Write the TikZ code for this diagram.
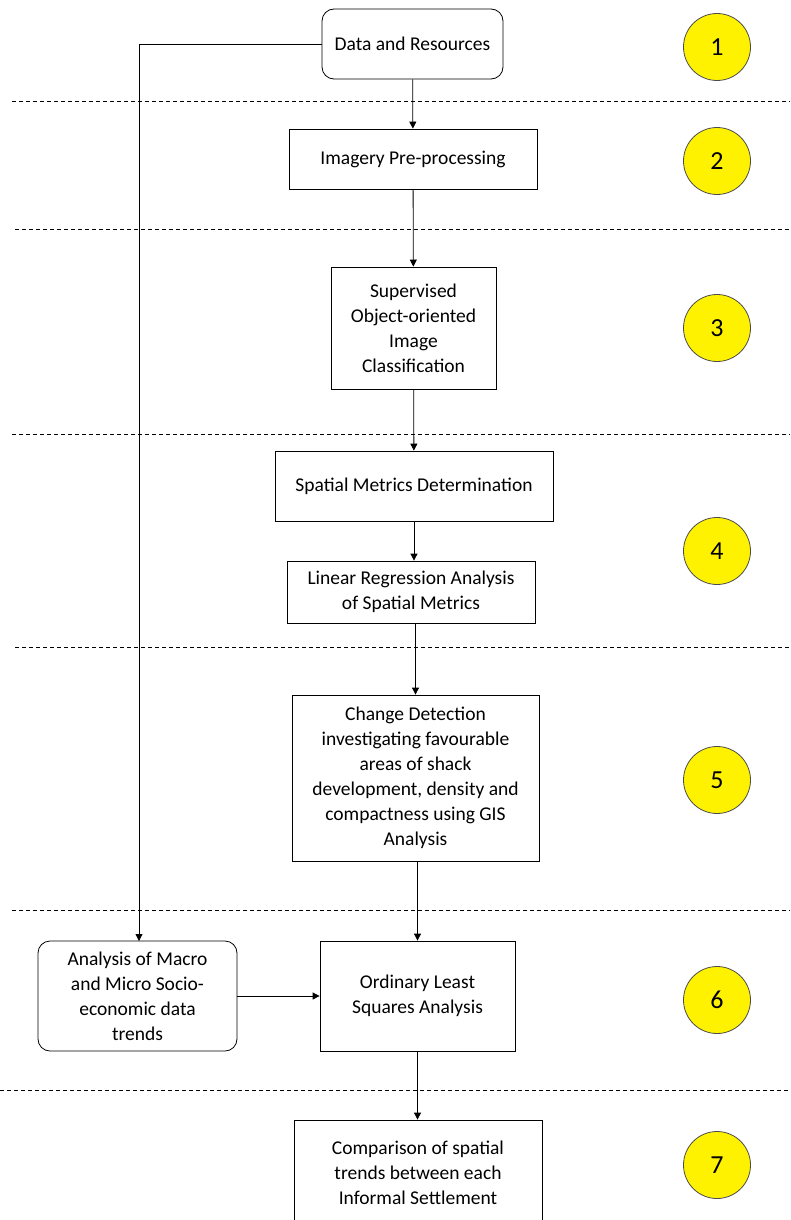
\documentclass[tikz,border=0pt]{standalone}
\usepackage{fontspec}
\setmainfont{Carlito}
\usetikzlibrary{arrows.meta,positioning}

\begin{document}
\begin{tikzpicture}[x=1pt, y=-1pt,
    box/.style={draw, thick, align=center, font=\fontsize{19.5}{25}\selectfont},
    rbox/.style={box, rounded corners=12pt},
    num/.style={draw=black!70, thick, circle, fill=yellow, minimum size=67pt, font=\fontsize{26}{30}\selectfont},
    arr/.style={-{Triangle[length=7pt, width=7pt]}, thick},
    sep/.style={dashed, dash pattern=on 4pt off 3pt, thick}]
    \useasboundingbox (0,0) rectangle (790,1220);

    % Steps - top to bottom
    \node[rbox, minimum width=181pt, minimum height=70pt] (data) at (412.5,44) {Data and Resources};
    \node[box, minimum width=248pt, minimum height=60pt] (prep) at (413,159) {Imagery Pre-processing};
    \node[box, minimum width=165pt, minimum height=122pt] (classif) at (413.5,328) {Supervised\\Object-oriented\\Image\\Classification};
    \node[box, minimum width=278pt, minimum height=70pt] (metrics) at (414,486) {Spatial Metrics Determination};
    \node[box, minimum width=248pt, minimum height=62pt] (linreg) at (411,592) {Linear Regression Analysis\\of Spatial Metrics};
    \node[box, minimum width=247pt, minimum height=166pt] (change) at (415.5,778) {Change Detection\\investigating favourable\\areas of shack\\development, density and\\compactness using GIS\\Analysis};
    \node[rbox, minimum width=199pt, minimum height=110pt] (socio) at (137.5,996) {Analysis of Macro\\and Micro Socio-\\economic data\\trends};
    \node[box, minimum width=195pt, minimum height=110pt] (ols) at (417.5,996) {Ordinary Least\\Squares Analysis};
    \node[box, minimum width=248pt, minimum height=106pt] (compare) at (418,1173) {Comparison of spatial\\trends between each\\Informal Settlement};

    % Stage numbers
    \node[num] (n1) at (717,47) {1};
    \node[num] (n2) at (717,161) {2};
    \node[num] (n3) at (717,328) {3};
    \node[num] (n4) at (717,551) {4};
    \node[num] (n5) at (717,780) {5};
    \node[num] (n6) at (717,1000) {6};
    \node[num] (n7) at (717,1165) {7};

    % Stage separators
    \draw[sep] (12,101) -- (790,101);
    \draw[sep] (15,229) -- (790,229);
    \draw[sep] (12,434) -- (790,434);
    \draw[sep] (15,647) -- (790,647);
    \draw[sep] (12,910) -- (790,910);
    \draw[sep] (0,1090) -- (790,1090);

    % Arrows
    \draw[arr] (data) -- (prep);
    \draw[arr] (prep) -- (classif);
    \draw[arr] (classif) -- (metrics);
    \draw[arr] (metrics) -- (linreg.north -| metrics);
    \draw[arr] (linreg.south -| change) -- (change);
    \draw[arr] (change.south -| ols) -- (ols);
    \draw[arr] (ols) -- (compare.north -| ols);
    \draw[arr] (data.west) -| (139,941);
    \draw[arr] (socio) -- (ols);
\end{tikzpicture}
\end{document}
